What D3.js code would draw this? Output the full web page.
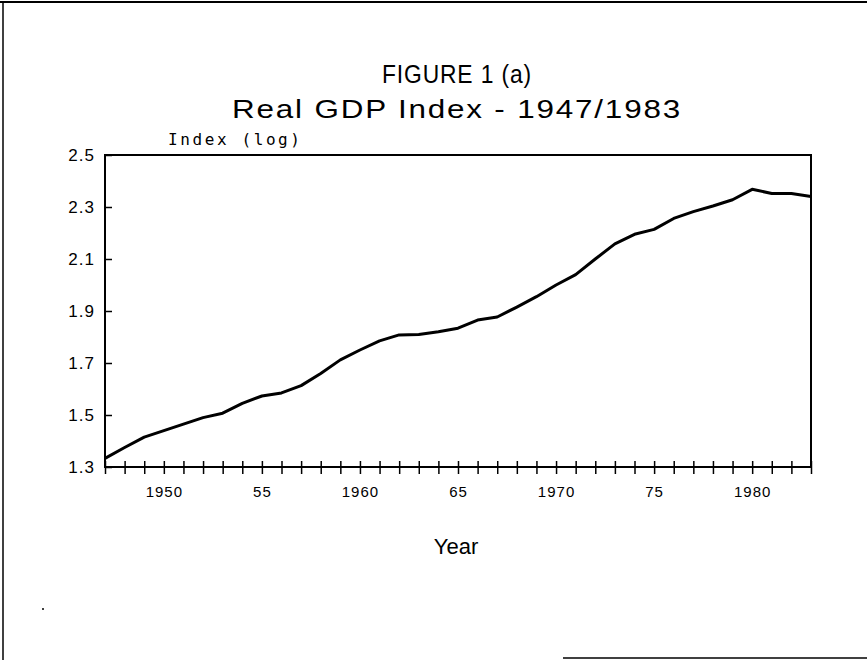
<!DOCTYPE html>
<html>
<head>
<meta charset="utf-8">
<style>
  body { margin: 0; background: #fff; }
  svg { display: block; }
  text { fill: #000; }
</style>
</head>
<body>
<svg id="chart" width="867" height="660"></svg>
<script src="https://cdn.jsdelivr.net/npm/d3@7/dist/d3.min.js"></script>
<script>
// annual real GDP index (log scale values)
var years = [1947, 1948, 1949, 1950, 1951, 1952, 1953, 1954, 1955, 1956,
             1957, 1958, 1959, 1960, 1961, 1962, 1963, 1964, 1965, 1966,
             1967, 1968, 1969, 1970, 1971, 1972, 1973, 1974, 1975, 1976,
             1977, 1978, 1979, 1980, 1981, 1982, 1983];
var gdpIndex = [1.333, 1.375, 1.415, 1.440, 1.465, 1.490, 1.507, 1.545, 1.573, 1.585,
                1.613, 1.660, 1.712, 1.750, 1.785, 1.808, 1.810, 1.820, 1.834, 1.865,
                1.877, 1.915, 1.955, 2.000, 2.040, 2.100, 2.158, 2.195, 2.214, 2.256,
                2.282, 2.304, 2.328, 2.368, 2.352, 2.352, 2.340];
var yTicks = [1.3, 1.5, 1.7, 1.9, 2.1, 2.3, 2.5];
var xLabels = {1950: "1950", 1955: "55", 1960: "1960", 1965: "65", 1970: "1970", 1975: "75", 1980: "1980"};

var svg = d3.select("#chart");
var plotLeft = 105, plotRight = 811, plotTop = 155, plotBottom = 467;
var sans = "Liberation Sans, Arial, sans-serif";

var x = d3.scaleLinear().domain([1947, 1983]).range([plotLeft, plotRight]);
var y = d3.scaleLinear().domain([1.3, 2.5]).range([plotBottom, plotTop]);

// page frame (scanned sheet edges)
svg.append("line").attr("x1", 0).attr("x2", 867).attr("y1", 2).attr("y2", 2)
    .attr("stroke", "#000").attr("stroke-width", 2);
svg.append("line").attr("x1", 3).attr("x2", 3).attr("y1", 2).attr("y2", 660)
    .attr("stroke", "#000").attr("stroke-width", 1.5);
svg.append("line").attr("x1", 563).attr("x2", 867).attr("y1", 658).attr("y2", 658)
    .attr("stroke", "#000").attr("stroke-width", 1.5);
svg.append("circle").attr("cx", 43).attr("cy", 609).attr("r", 1).attr("fill", "#000");

// titles
svg.append("text").attr("x", 457).attr("y", 83).attr("text-anchor", "middle")
    .attr("font-family", sans).attr("font-size", 26).attr("letter-spacing", 1)
    .attr("textLength", 150).attr("lengthAdjust", "spacingAndGlyphs")
    .text("FIGURE 1 (a)");
svg.append("text").attr("x", 457).attr("y", 118).attr("text-anchor", "middle")
    .attr("font-family", sans).attr("font-size", 26).attr("letter-spacing", 1.5)
    .attr("textLength", 450).attr("lengthAdjust", "spacingAndGlyphs")
    .text("Real GDP Index - 1947/1983");
svg.append("text").attr("x", 168).attr("y", 145)
    .attr("font-family", "DejaVu Sans Mono, monospace").attr("font-size", 16)
    .attr("textLength", 132).attr("lengthAdjust", "spacing")
    .text("Index (log)");
svg.append("text").attr("x", 456).attr("y", 554).attr("text-anchor", "middle")
    .attr("font-family", sans).attr("font-size", 22)
    .text("Year");

// plot box
svg.append("rect").attr("x", plotLeft).attr("y", plotTop)
    .attr("width", plotRight - plotLeft).attr("height", plotBottom - plotTop)
    .attr("fill", "none").attr("stroke", "#000").attr("stroke-width", 2);

// y axis: short inward ticks
var yAxis = svg.append("g").attr("transform", "translate(" + plotLeft + ",0)")
    .call(d3.axisRight(y).tickValues(yTicks).tickSize(7).tickFormat(d3.format(".1f")));
yAxis.select(".domain").remove();
yAxis.selectAll(".tick line").attr("stroke-width", 1.5);
yAxis.selectAll(".tick text")
    .attr("x", -10).attr("text-anchor", "end").attr("dy", "0.35em")
    .attr("font-family", sans).attr("font-size", 17)
    .attr("letter-spacing", 1);

// x axis: a crossing tick for every year
var xAxis = svg.append("g").attr("transform", "translate(0," + plotBottom + ")")
    .call(d3.axisBottom(x).tickValues(years).tickSize(7)
        .tickFormat(function (d) { return xLabels[d] || ""; }));
xAxis.select(".domain").remove();
xAxis.selectAll(".tick line").attr("y1", -6).attr("y2", 7).attr("stroke-width", 1.5);
xAxis.selectAll(".tick text")
    .attr("y", 19).attr("dy", "0.71em")
    .attr("font-family", sans).attr("font-size", 15)
    .attr("letter-spacing", 1);

// series
var line = d3.line()
    .x(function (d, i) { return x(years[i]); })
    .y(function (d) { return y(d); });
svg.append("path").datum(gdpIndex)
    .attr("d", line)
    .attr("fill", "none").attr("stroke", "#000").attr("stroke-width", 3)
    .attr("stroke-linejoin", "round");
</script>
</body>
</html>
